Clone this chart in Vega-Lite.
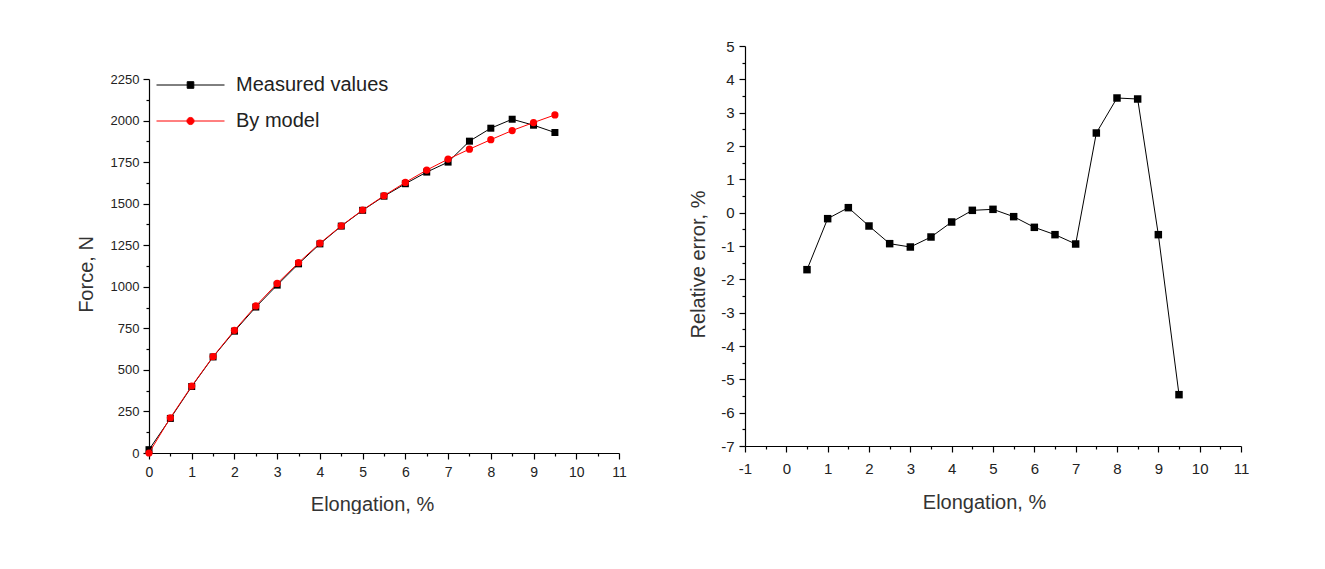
{
  "$schema": "https://vega.github.io/schema/vega-lite/v6.json",
  "background": "white",
  "padding": {"left": 76, "top": 39, "right": 0, "bottom": 0},
  "spacing": 61,
  "config": {
    "view": {"stroke": null},
    "font": "Liberation Sans",
    "axis": {
      "domainColor": "black", "tickColor": "black", "labelColor": "#222", "titleColor": "#333",
      "titleFontWeight": "normal", "titleFontSize": 20, "grid": false,
      "labelFont": "Liberation Sans", "titleFont": "Liberation Sans",
      "domainWidth": 1.2, "tickWidth": 1.2, "labelOverlap": false, "labelFlush": false
    }
  },
  "hconcat": [
    {
      "spacing": 26,
      "vconcat": [
        {
          "width": 470,
          "height": 1,
          "data": {"values": []},
          "mark": "point"
        },
        {
          "width": 470,
          "height": 374,
          "data": {"values": [
            {"x": 0, "force": 20, "series": "Measured values"},
            {"x": 0.5, "force": 208, "series": "Measured values"},
            {"x": 1, "force": 400, "series": "Measured values"},
            {"x": 1.5, "force": 578, "series": "Measured values"},
            {"x": 2, "force": 733, "series": "Measured values"},
            {"x": 2.5, "force": 878, "series": "Measured values"},
            {"x": 3, "force": 1010, "series": "Measured values"},
            {"x": 3.5, "force": 1138, "series": "Measured values"},
            {"x": 4, "force": 1258, "series": "Measured values"},
            {"x": 4.5, "force": 1365, "series": "Measured values"},
            {"x": 5, "force": 1460, "series": "Measured values"},
            {"x": 5.5, "force": 1545, "series": "Measured values"},
            {"x": 6, "force": 1620, "series": "Measured values"},
            {"x": 6.5, "force": 1690, "series": "Measured values"},
            {"x": 7, "force": 1750, "series": "Measured values"},
            {"x": 7.5, "force": 1876, "series": "Measured values"},
            {"x": 8, "force": 1954, "series": "Measured values"},
            {"x": 8.5, "force": 2008, "series": "Measured values"},
            {"x": 9, "force": 1972, "series": "Measured values"},
            {"x": 9.5, "force": 1928, "series": "Measured values"},
            {"x": 0, "force": 0, "series": "By model"},
            {"x": 0.5, "force": 212, "series": "By model"},
            {"x": 1, "force": 403, "series": "By model"},
            {"x": 1.5, "force": 580, "series": "By model"},
            {"x": 2, "force": 738, "series": "By model"},
            {"x": 2.5, "force": 885, "series": "By model"},
            {"x": 3, "force": 1020, "series": "By model"},
            {"x": 3.5, "force": 1145, "series": "By model"},
            {"x": 4, "force": 1262, "series": "By model"},
            {"x": 4.5, "force": 1367, "series": "By model"},
            {"x": 5, "force": 1462, "series": "By model"},
            {"x": 5.5, "force": 1548, "series": "By model"},
            {"x": 6, "force": 1628, "series": "By model"},
            {"x": 6.5, "force": 1702, "series": "By model"},
            {"x": 7, "force": 1768, "series": "By model"},
            {"x": 7.5, "force": 1828, "series": "By model"},
            {"x": 8, "force": 1885, "series": "By model"},
            {"x": 8.5, "force": 1940, "series": "By model"},
            {"x": 9, "force": 1988, "series": "By model"},
            {"x": 9.5, "force": 2034, "series": "By model"}
          ]},
          "encoding": {
            "x": {
              "field": "x", "type": "quantitative",
              "scale": {"domain": [0, 11], "nice": false, "zero": false},
              "axis": {
                "title": "Elongation, %", "titlePadding": 15, "titleX": 223,
                "values": [0,0.5,1,1.5,2,2.5,3,3.5,4,4.5,5,5.5,6,6.5,7,7.5,8,8.5,9,9.5,10,10.5,11],
                "labelExpr": "datum.value % 1 === 0 ? '' + datum.value : ''",
                "tickSize": {"condition": {"test": "datum.value % 1 === 0", "value": 6}, "value": 3},
                "labelFontSize": 14, "labelPadding": 6
              }
            },
            "y": {
              "field": "force", "type": "quantitative",
              "scale": {"domain": [0, 2250], "nice": false},
              "axis": {
                "title": "Force, N", "titlePadding": 14, "titleY": 195,
                "values": [0,125,250,375,500,625,750,875,1000,1125,1250,1375,1500,1625,1750,1875,2000,2125,2250],
                "labelExpr": "datum.value % 250 === 0 ? '' + datum.value : ''",
                "tickSize": {"condition": {"test": "datum.value % 250 === 0", "value": 6}, "value": 3},
                "labelFontSize": 13, "labelPadding": 4
              }
            },
            "color": {
              "field": "series", "type": "nominal",
              "scale": {"domain": ["Measured values", "By model"], "range": ["black", "red"]},
              "legend": {
                "orient": "none", "legendX": 7, "legendY": 21, "title": null,
                "symbolSize": 4624, "clipHeight": 36, "rowPadding": 0, "padding": 0,
                "labelFontSize": 20, "labelColor": "#222", "labelOffset": 11, "labelFont": "Liberation Sans",
                "symbolStrokeWidth": 1,
                "encode": {
                  "symbols": {
                    "update": {
                      "shape": {"signal": "datum.value === 'Measured values' ? 'M-1,0H1M-0.097,-0.097H0.097V0.097H-0.097Z' : 'M-1,0H1M0.105,0A0.105,0.105,0,1,1,-0.105,0A0.105,0.105,0,1,1,0.105,0Z'"},
                      "fill": {"signal": "datum.value === 'Measured values' ? 'black' : 'red'"},
                      "stroke": {"signal": "datum.value === 'Measured values' ? 'black' : 'red'"},
                      "opacity": {"value": 1},
                      "fillOpacity": {"value": 1},
                      "strokeOpacity": {"value": 1}
                    }
                  }
                }
              }
            }
          },
          "layer": [
            {
              "transform": [{"filter": "datum.series === 'Measured values'"}],
              "mark": {"type": "line", "strokeWidth": 1}
            },
            {
              "transform": [{"filter": "datum.series === 'Measured values'"}],
              "mark": {"type": "point", "shape": "square", "filled": true, "opacity": 1, "size": 49}
            },
            {
              "transform": [{"filter": "datum.series === 'By model'"}],
              "mark": {"type": "line", "strokeWidth": 1}
            },
            {
              "transform": [{"filter": "datum.series === 'By model'"}],
              "mark": {"type": "point", "shape": "circle", "filled": true, "opacity": 1, "size": 52}
            }
          ]
        }
      ]
    },
    {
      "width": 496,
      "height": 400,
      "data": {"values": [
        {"x": 0.5, "err": -1.71},
        {"x": 1, "err": -0.18},
        {"x": 1.5, "err": 0.15},
        {"x": 2, "err": -0.4},
        {"x": 2.5, "err": -0.93},
        {"x": 3, "err": -1.03},
        {"x": 3.5, "err": -0.73},
        {"x": 4, "err": -0.28},
        {"x": 4.5, "err": 0.07},
        {"x": 5, "err": 0.1},
        {"x": 5.5, "err": -0.12},
        {"x": 6, "err": -0.44},
        {"x": 6.5, "err": -0.66},
        {"x": 7, "err": -0.94},
        {"x": 7.5, "err": 2.39},
        {"x": 8, "err": 3.44},
        {"x": 8.5, "err": 3.41},
        {"x": 9, "err": -0.66},
        {"x": 9.5, "err": -5.46}
      ]},
      "encoding": {
        "x": {
          "field": "x", "type": "quantitative",
          "scale": {"domain": [-1, 11], "nice": false, "zero": false},
          "axis": {
            "title": "Elongation, %", "titlePadding": 16, "titleX": 239,
            "values": [-1,-0.5,0,0.5,1,1.5,2,2.5,3,3.5,4,4.5,5,5.5,6,6.5,7,7.5,8,8.5,9,9.5,10,10.5,11],
            "labelExpr": "datum.value % 1 === 0 ? '' + datum.value : ''",
            "tickSize": {"condition": {"test": "datum.value % 1 === 0", "value": 6}, "value": 3},
            "labelFontSize": 15, "labelPadding": 9
          }
        },
        "y": {
          "field": "err", "type": "quantitative",
          "scale": {"domain": [-7, 5], "nice": false, "zero": false},
          "axis": {
            "title": "Relative error, %", "titlePadding": 12, "titleY": 218,
            "values": [-7,-6.5,-6,-5.5,-5,-4.5,-4,-3.5,-3,-2.5,-2,-1.5,-1,-0.5,0,0.5,1,1.5,2,2.5,3,3.5,4,4.5,5],
            "labelExpr": "datum.value % 1 === 0 ? '' + datum.value : ''",
            "tickSize": {"condition": {"test": "datum.value % 1 === 0", "value": 6}, "value": 3},
            "labelFontSize": 15, "labelPadding": 5
          }
        }
      },
      "layer": [
        {"mark": {"type": "line", "strokeWidth": 1, "color": "black"}},
        {"mark": {"type": "point", "shape": "square", "filled": true, "opacity": 1, "size": 56, "color": "black"}}
      ]
    }
  ]
}
